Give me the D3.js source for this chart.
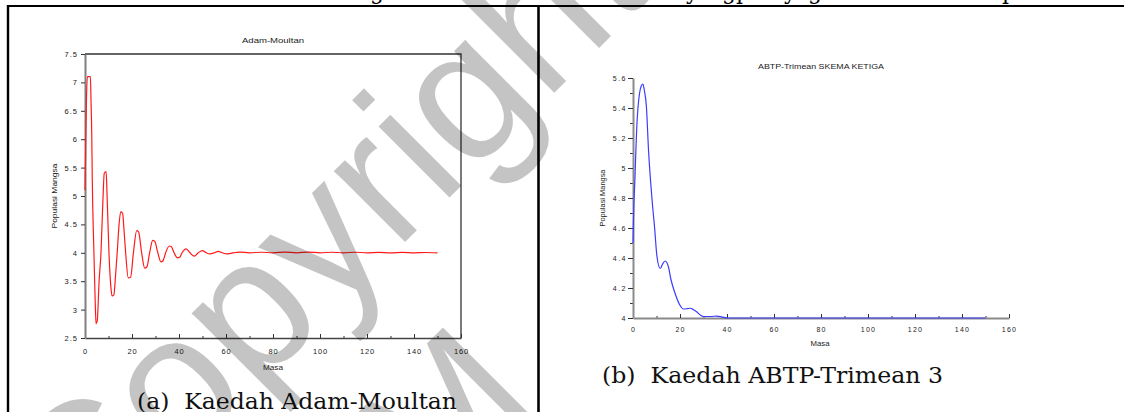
<!DOCTYPE html>
<html>
<head>
<meta charset="utf-8">
<script src="https://cdn.jsdelivr.net/npm/d3@7"></script>
<style>
body { margin: 0; background: #fff; }
svg { display: block; }
.tick text { font-family: "Liberation Sans", Arial, sans-serif; }
</style>
</head>
<body>
<svg id="fig" width="1124" height="412"></svg>
<script>
// (a) Kaedah Adam-Moultan
const amMasa = [0, 0.3, 0.6, 1, 2.3, 2.6, 2.85, 3.1, 3.8, 4.3, 4.7, 5.2, 6, 6.8, 7.6, 8.2, 9, 9.4, 10.2, 11, 11.5, 12.3, 13, 13.7,
	14.5, 15.2, 16, 16.6, 17.3, 18.4, 19.4, 20.6, 22, 22.8, 24.1, 25.4, 26.3, 27.5, 28.8, 29.7, 31, 32.3, 33.2, 34.3,
	35.9, 36.7, 37.9, 39.4, 40.3, 41.3, 43, 44.7, 46.5, 48.2, 49.9, 51.6, 53.2, 55, 56.7, 58.5, 60.3, 63, 66, 70, 75,
	80, 85, 90, 95, 100, 105, 110, 115, 120, 125, 130, 135, 140, 145, 150];
const amMangsa = [5.1, 5.9, 6.65, 7.1, 7.1, 6.6, 6.15, 5.28, 4.0, 3.2, 2.75, 2.8, 3.5, 4.0, 4.9, 5.4, 5.43, 5.0, 4.0, 3.4, 3.24, 3.26, 3.6, 4.0,
	4.5, 4.72, 4.7, 4.4, 4.0, 3.56, 3.57, 4.0, 4.39, 4.37, 4.0, 3.73, 3.75, 4.0, 4.22, 4.2, 4.0, 3.84, 3.86, 4.0,
	4.12, 4.11, 4.0, 3.91, 3.92, 4.0, 4.07, 4.0, 3.94, 4.0, 4.04, 4.0, 3.98, 4.0, 4.025, 4.0, 3.98, 4.0, 4.012, 4.0, 4.01,
	4.0, 4.012, 4.0, 4.012, 4.0, 4.01, 4.0, 4.01, 4.0, 4.008, 4.0, 4.008, 4.0, 4.005, 4.0];
const amYTicks = [2.5, 3, 3.5, 4, 4.5, 5, 5.5, 6, 6.5, 7, 7.5];
const amXTicks = [0, 20, 40, 60, 80, 100, 120, 140, 160];
const amXMinor = [10, 30, 50, 70, 90, 110, 130, 150];

// (b) Kaedah ABTP-Trimean 3
const abMasa = [0, 0.3, 0.7, 1.7, 2.8, 3.6, 4.2, 4.8, 5.7, 6.6, 8.1, 9.2, 10.2, 11.6, 12.6, 13.7, 15.1, 16.1, 18, 19.8, 21.5,
	23, 24.3, 25.8, 27.2, 28.6, 30, 33, 35.7, 38, 40.6, 60, 80, 100, 120, 140, 150];
const abMangsa = [4.5, 4.72, 4.88, 5.3, 5.5, 5.55, 5.56, 5.52, 5.41, 5.12, 4.79, 4.6, 4.41, 4.33, 4.36, 4.38, 4.34, 4.26, 4.16, 4.09, 4.06,
	4.062, 4.065, 4.055, 4.04, 4.02, 4.01, 4.01, 4.013, 4.006, 4.0, 4.0, 4.0, 4.0, 4.0, 4.0, 4.0];
const abYTicks = [4, 4.2, 4.4, 4.6, 4.8, 5, 5.2, 5.4, 5.6];
const abYMinor = [4.1, 4.3, 4.5, 4.7, 4.9, 5.1, 5.3, 5.5];
const abXTicks = [0, 20, 40, 60, 80, 100, 120, 140, 160];
const abXMinor = [10, 30, 50, 70, 90, 110, 130, 150];

const svg = d3.select('#fig');
const sans = '"Liberation Sans", Arial, sans-serif';
const serif = 'Georgia, "DejaVu Serif", serif';

// page fragments: bottom of previous text line, table borders
const topBits = [[370, 'g'], [686, 'y'], [722, 'gp'], [784, 'y'], [808, 'g'], [1002, 'p']];
svg.selectAll('text.prev').data(topBits).enter().append('text')
	.attr('class', 'prev')
	.attr('x', d => d[0]).attr('y', -1)
	.style('font', '22px ' + serif)
	.text(d => d[1]);
svg.append('line').attr('x1', 7).attr('x2', 1124).attr('y1', 6).attr('y2', 6).attr('stroke', '#000').attr('stroke-width', 2.2);
svg.append('line').attr('x1', 8).attr('x2', 8).attr('y1', 5).attr('y2', 412).attr('stroke', '#000').attr('stroke-width', 2.4);
svg.append('line').attr('x1', 538.5).attr('x2', 538.5).attr('y1', 5).attr('y2', 412).attr('stroke', '#000').attr('stroke-width', 2.6);

function styleAxis(g, o) {
	g.select('.domain').attr('stroke', o.domain).attr('stroke-width', o.dw);
	g.selectAll('.tick line').attr('stroke', o.tick).attr('stroke-width', 1);
	g.selectAll('.tick text')
		.attr('fill', '#222')
		.style('font-size', o.fs + 'px')
		.style('letter-spacing', o.ls + 'px');
}

// ---- chart (a)
{
	let x = d3.scaleLinear().domain([0, 160]).range([85, 461]);
	let y = d3.scaleLinear().domain([2.5, 7.5]).range([338, 54]);
	let g = svg.append('g');

	// frame top + right
	g.append('path')
		.attr('d', `M${x(0)},${y(7.5)}H${x(160)}V${y(2.5)}`)
		.attr('fill', 'none').attr('stroke', '#333').attr('stroke-width', 1.3);

	g.append('g').attr('transform', `translate(0,${y(2.5)})`)
		.call(d3.axisBottom(x).tickValues(amXMinor).tickSizeInner(-2).tickSizeOuter(0).tickFormat(''))
		.call(a => a.select('.domain').remove())
		.call(a => a.selectAll('line').attr('stroke', '#333'));
	g.append('g').attr('transform', `translate(0,${y(2.5)})`)
		.call(d3.axisBottom(x).tickValues(amXTicks).tickSizeInner(-4).tickSizeOuter(0).tickPadding(11).tickFormat(d3.format('')))
		.call(a => styleAxis(a, {domain: '#444', dw: 1.6, tick: '#333', fs: 7.5, ls: 0.8}));
	g.append('g').attr('transform', `translate(${x(0)},0)`)
		.call(d3.axisLeft(y).tickValues(amYTicks).tickSizeInner(4).tickSizeOuter(0).tickPadding(3).tickFormat(d3.format('')))
		.call(a => styleAxis(a, {domain: '#808080', dw: 2, tick: '#333', fs: 7.5, ls: 1}));

	let line = d3.line().x((d, i) => x(amMasa[i])).y(d => y(d)).curve(d3.curveMonotoneX);
	g.append('path').datum(amMangsa)
		.attr('d', line)
		.attr('fill', 'none').attr('stroke', '#ff1a1a').attr('stroke-width', 1.2);

	g.append('text').attr('x', (x(0) + x(160)) / 2).attr('y', 43)
		.attr('text-anchor', 'middle').attr('textLength', 62).attr('lengthAdjust', 'spacingAndGlyphs')
		.style('font', '8px ' + sans).attr('fill', '#222').text('Adam-Moultan');
	g.append('text').attr('x', 273).attr('y', 370)
		.attr('text-anchor', 'middle').attr('textLength', 20).attr('lengthAdjust', 'spacingAndGlyphs')
		.style('font', '7px ' + sans).attr('fill', '#222').text('Masa');
	g.append('text').attr('transform', `translate(57,${(y(2.5) + y(7.5)) / 2}) rotate(-90)`)
		.attr('text-anchor', 'middle').attr('textLength', 65).attr('lengthAdjust', 'spacingAndGlyphs')
		.style('font', '7.5px ' + sans).attr('fill', '#222').text('Populasi Mangsa');

	g.append('text').attr('x', 137).attr('y', 409)
		.attr('textLength', 320).attr('lengthAdjust', 'spacingAndGlyphs')
		.style('font', '23px ' + serif).style('white-space', 'pre').attr('fill', '#111')
		.text('(a)  Kaedah Adam-Moultan');
}

// ---- chart (b)
{
	let x = d3.scaleLinear().domain([0, 160]).range([633, 1009]);
	let y = d3.scaleLinear().domain([4, 5.6]).range([318, 78]);
	let g = svg.append('g');

	g.append('g').attr('transform', `translate(0,${y(4)})`)
		.call(d3.axisBottom(x).tickValues(abXMinor).tickSizeInner(-2).tickSizeOuter(0).tickFormat(''))
		.call(a => a.select('.domain').remove())
		.call(a => a.selectAll('line').attr('stroke', '#333'));
	g.append('g').attr('transform', `translate(${x(0)},0)`)
		.call(d3.axisLeft(y).tickValues(abYMinor).tickSizeInner(3).tickSizeOuter(0).tickFormat(''))
		.call(a => a.select('.domain').remove())
		.call(a => a.selectAll('line').attr('stroke', '#333'));

	let line = d3.line().x((d, i) => x(abMasa[i])).y(d => y(d)).curve(d3.curveMonotoneX);

	g.append('g').attr('transform', `translate(0,${y(4)})`)
		.call(d3.axisBottom(x).tickValues(abXTicks).tickSizeInner(-4).tickSizeOuter(0).tickPadding(9).tickFormat(d3.format('')))
		.call(a => styleAxis(a, {domain: '#8a8a8a', dw: 2, tick: '#333', fs: 7, ls: 1.2}));
	g.append('g').attr('transform', `translate(${x(0)},0)`)
		.call(d3.axisLeft(y).tickValues(abYTicks).tickSizeInner(5).tickSizeOuter(0).tickPadding(1).tickFormat(d3.format('')))
		.call(a => styleAxis(a, {domain: '#8a8a8a', dw: 2, tick: '#333', fs: 7, ls: 1.5}));

	g.append('path').datum(abMangsa)
		.attr('d', line)
		.attr('fill', 'none').attr('stroke', '#3c3cff').attr('stroke-width', 1.2);

	g.append('text').attr('x', (x(0) + x(160)) / 2).attr('y', 69)
		.attr('text-anchor', 'middle').attr('textLength', 126).attr('lengthAdjust', 'spacingAndGlyphs')
		.style('font', '7px ' + sans).attr('fill', '#222').text('ABTP-Trimean SKEMA KETIGA');
	g.append('text').attr('x', 820).attr('y', 346)
		.attr('text-anchor', 'middle').attr('textLength', 19).attr('lengthAdjust', 'spacingAndGlyphs')
		.style('font', '6.5px ' + sans).attr('fill', '#222').text('Masa');
	g.append('text').attr('transform', `translate(605,${(y(4) + y(5.6)) / 2}) rotate(-90)`)
		.attr('text-anchor', 'middle').attr('textLength', 57).attr('lengthAdjust', 'spacingAndGlyphs')
		.style('font', '6.5px ' + sans).attr('fill', '#222').text('Populasi Mangsa');

	g.append('text').attr('x', 602).attr('y', 383)
		.attr('textLength', 341).attr('lengthAdjust', 'spacingAndGlyphs')
		.style('font', '23px ' + serif).style('white-space', 'pre').attr('fill', '#111')
		.text('(b)  Kaedah ABTP-Trimean 3');
}

// watermark over the page
const wm = svg.append('g')
	.attr('transform', 'translate(82,565) rotate(-45)')
	.attr('fill', '#000').attr('fill-opacity', 0.23)
	.style('font', '190px ' + sans)
	.style('-webkit-text-stroke', '4px rgba(0,0,0,0.23)');
wm.append('text').attr('x', 0).attr('y', 0).text('Copyright');
wm.append('text').attr('x', -15).attr('y', 218).text('UiTM');
</script>
</body>
</html>
